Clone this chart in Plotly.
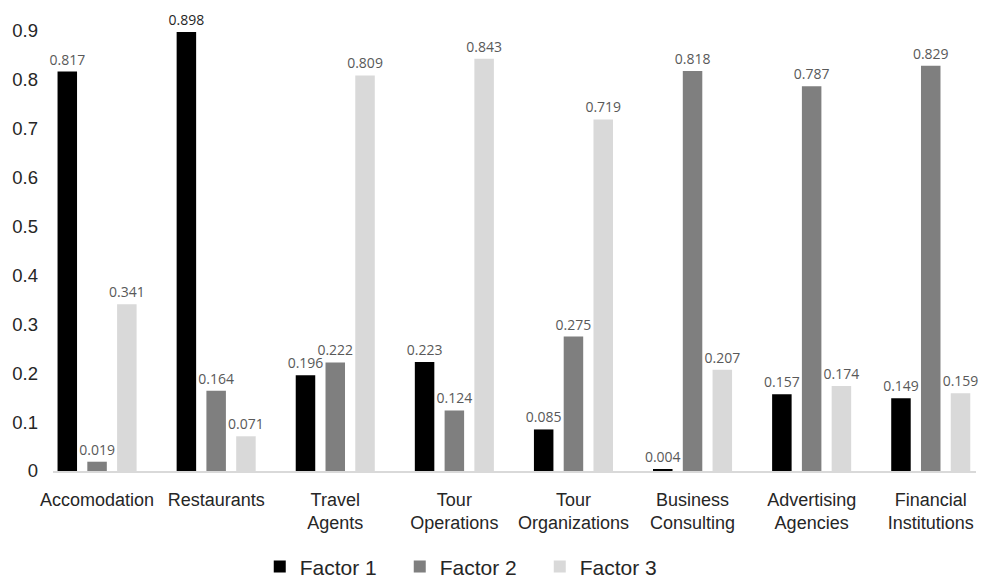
import plotly.graph_objects as go

categories = ["Accomodation", "Restaurants", "Travel<br>Agents", "Tour<br>Operations",
              "Tour<br>Organizations", "Business<br>Consulting", "Advertising<br>Agencies",
              "Financial<br>Institutions"]
factor1 = [0.817, 0.898, 0.196, 0.223, 0.085, 0.004, 0.157, 0.149]
factor2 = [0.019, 0.164, 0.222, 0.124, 0.275, 0.818, 0.787, 0.829]
factor3 = [0.341, 0.071, 0.809, 0.843, 0.719, 0.207, 0.174, 0.159]
series_names = ["Factor 1", "Factor 2", "Factor 3"]
colors = ["#000000", "#7f7f7f", "#d9d9d9"]
tick_vals = [0, 0.1, 0.2, 0.3, 0.4, 0.5, 0.6, 0.7, 0.8, 0.9]
tick_text = ["0", "0.1", "0.2", "0.3", "0.4", "0.5", "0.6", "0.7", "0.8", "0.9"]

fig = go.Figure()
for i, (name, vals, c) in enumerate(zip(series_names, [factor1, factor2, factor3], colors)):
    label_colors = ["#595959"] * len(vals)
    if i == 0:
        label_colors[1] = "#262626"
    fig.add_trace(go.Bar(
        x=categories, y=vals, name=name, marker=dict(color=c, line=dict(width=0)),
        text=[f"{v:.3f}" for v in vals], textposition="outside", constraintext="none",
        textfont=dict(family="Open Sans, sans-serif", size=14, color=label_colors),
        cliponaxis=False,
    ))

fig.update_layout(
    width=981, height=579,
    margin=dict(l=53, r=5, t=31, b=108, autoexpand=False),
    plot_bgcolor="white", paper_bgcolor="white",
    barmode="group", bargap=0.25, bargroupgap=0.345,
    font=dict(family="Liberation Sans, Arial, sans-serif", size=18, color="#262626"),
    showlegend=True,
    legend=dict(orientation="h", xref="paper", x=0.224, xanchor="left",
                yref="paper", y=-0.218, yanchor="middle",
                font=dict(size=21, color="#262626"), entrywidth=95,
                entrywidthmode="pixels", traceorder="normal"),
    xaxis=dict(range=[-0.37, 7.38], showline=True, linecolor="#d9d9d9", linewidth=2,
               ticks="", tickfont=dict(size=18, color="#262626"), showgrid=False,
               ticklabelstandoff=11, automargin=False, tickangle=0),
    yaxis=dict(range=[0, 0.9], tickvals=tick_vals, ticktext=tick_text, showgrid=False,
               zeroline=False, showline=False, ticks="", ticklabelstandoff=14,
               tickfont=dict(size=18.5, color="#262626"), automargin=False),
)
fig.write_html("out.html")
